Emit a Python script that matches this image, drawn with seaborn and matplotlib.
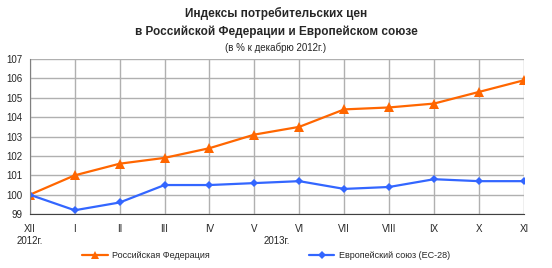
import matplotlib
matplotlib.use('Agg')
import matplotlib.pyplot as plt
import seaborn as sns
import pandas as pd

sns.set_style('whitegrid', {'grid.color': '#b0b0b0', 'axes.edgecolor': '#808080'})
plt.rcParams['font.family'] = ['Liberation Sans', 'DejaVu Sans']

months = ['XII', 'I', 'II', 'III', 'IV', 'V', 'VI', 'VII', 'VIII', 'IX', 'X', 'XI']
rf = [100.0, 101.0, 101.6, 101.9, 102.4, 103.1, 103.5, 104.4, 104.5, 104.7, 105.3, 105.9]
eu = [100.0, 99.2, 99.6, 100.5, 100.5, 100.6, 100.7, 100.3, 100.4, 100.8, 100.7, 100.7]
rf_name = 'Российская Федерация'
eu_name = 'Европейский союз (ЕС-28)'

df = pd.DataFrame({'x': list(range(len(months))) * 2,
                   'val': rf + eu,
                   'series': [rf_name] * len(rf) + [eu_name] * len(eu)})

fig = plt.figure(figsize=(5.52, 2.68), dpi=100)
ax = fig.add_axes([0.054, 0.201, 0.895, 0.579])

sns.lineplot(data=df, x='x', y='val', hue='series', style='series',
             palette={rf_name: '#ff6600', eu_name: '#3366ff'},
             markers={rf_name: '^', eu_name: 'D'}, dashes=False,
             linewidth=1.6, markeredgewidth=0, ax=ax)
# bigger triangles, small diamonds
ax.lines[0].set_markersize(6.5)
ax.lines[1].set_markersize(4.5)

ax.set_xlim(0, len(months) - 1)
ax.set_ylim(99, 107)
ax.set_yticks(range(99, 108))
ax.set_xticks(range(len(months)))
ax.set_xticklabels(months)
ax.set_xlabel('')
ax.set_ylabel('')
ax.tick_params(labelsize=7, length=3, pad=2, color='#606060')
ax.tick_params(axis='x', pad=4)
for s in ['top', 'right']:
    ax.spines[s].set_visible(False)
ax.spines['bottom'].set_color('#404040')
ax.grid(True, linewidth=1.0)

for xpos, yr in [(0, '2012г.'), (5.5, '2013г.')]:
    ax.annotate(yr, xy=(xpos, 0), xycoords=('data', 'axes fraction'),
                xytext=(0, -15.5), textcoords='offset points',
                ha='center', va='top', fontsize=7)

handles, labels = ax.get_legend_handles_labels()
leg = ax.legend(handles, labels, loc='center left', bbox_to_anchor=(0.149, 0.045),
                bbox_transform=fig.transFigure, ncol=2, frameon=False, fontsize=6.5,
                columnspacing=11, handlelength=2.8, handletextpad=0.5,
                borderpad=0, borderaxespad=0)
leg.legend_handles[0].set_markersize(5.5)
leg.legend_handles[1].set_markersize(4)
leg.legend_handles[0].set_markeredgewidth(0)
leg.legend_handles[1].set_markeredgewidth(0)

fig.text(0.5, 0.935, 'Индексы потребительских цен', ha='center', fontsize=8.5, fontweight='bold')
fig.text(0.5, 0.868, 'в Российской Федерации и Европейском союзе', ha='center', fontsize=8.5, fontweight='bold')
fig.text(0.5, 0.81, '(в % к декабрю 2012г.)', ha='center', fontsize=7)

fig.savefig('out.png', dpi=100)
